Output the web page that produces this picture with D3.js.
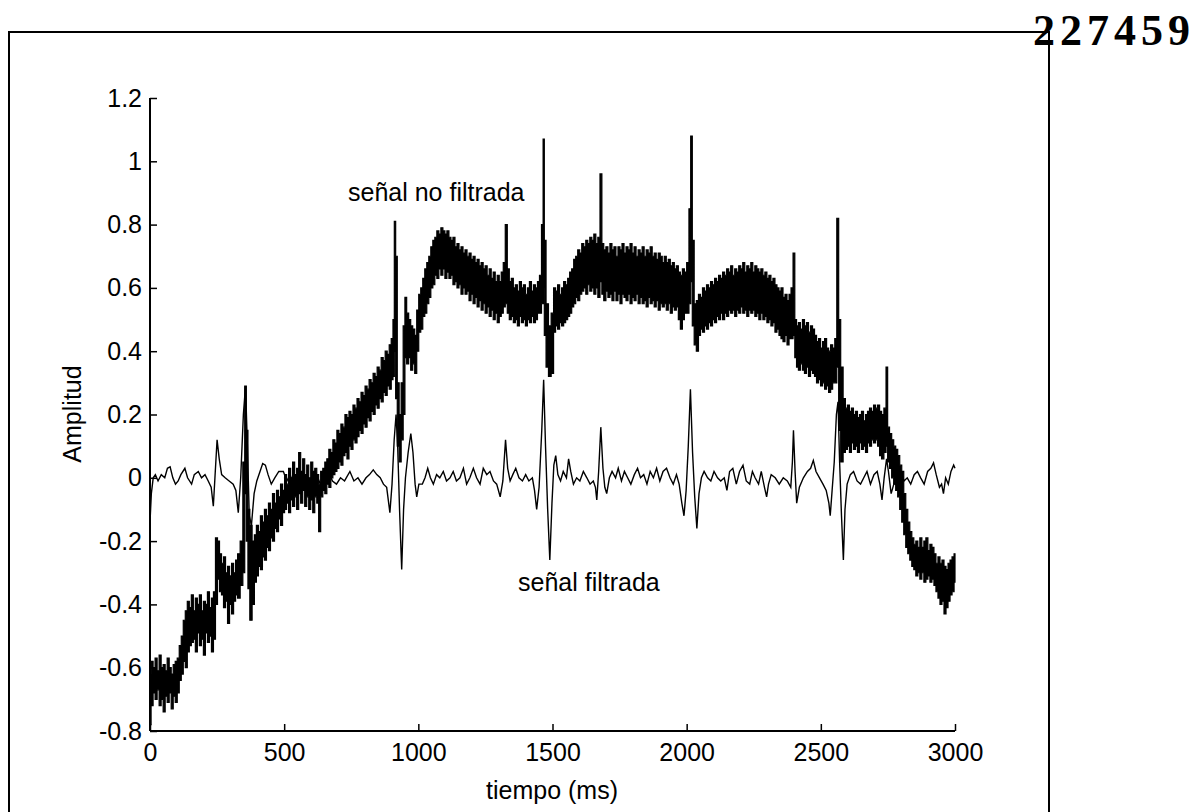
<!DOCTYPE html>
<html>
<head>
<meta charset="utf-8">
<script src="https://cdn.jsdelivr.net/npm/d3@7"></script>
<style>
  html, body { margin: 0; padding: 0; background: #fff; }
  svg { display: block; }
  text { font-family: "Liberation Sans", Arial, sans-serif; fill: #000; }
</style>
</head>
<body>
<svg id="chart" width="1198" height="812"></svg>
<script>
// ---------------- DATA ----------------
const xTicks = [0, 500, 1000, 1500, 2000, 2500, 3000];
const yTicks = [-0.8, -0.6, -0.4, -0.2, 0, 0.2, 0.4, 0.6, 0.8, 1, 1.2];
const xLabel = "tiempo (ms)";
const yLabel = "Amplitud";
const rawLabel = "señal no filtrada";
const filtLabel = "señal filtrada";
const docNumber = "227459";

// unfiltered signal: [time ms, upper edge, lower edge] of the noisy band
const rawEnvelope = [
[0,-0.62,-0.78],[8,-0.58,-0.72],[15,-0.60,-0.68],[23,-0.57,-0.70],[30,-0.61,-0.67],
[38,-0.56,-0.72],[45,-0.60,-0.70],[53,-0.59,-0.74],[60,-0.61,-0.69],[68,-0.57,-0.71],
[75,-0.60,-0.68],[83,-0.62,-0.73],[90,-0.59,-0.69],[98,-0.58,-0.71],[105,-0.57,-0.68],
[113,-0.53,-0.64],[120,-0.50,-0.62],[128,-0.45,-0.58],[135,-0.42,-0.60],[143,-0.39,-0.55],
[150,-0.41,-0.53],[158,-0.37,-0.52],[165,-0.42,-0.51],[173,-0.38,-0.55],[180,-0.40,-0.49],
[188,-0.37,-0.53],[195,-0.42,-0.51],[203,-0.39,-0.56],[210,-0.40,-0.49],[218,-0.36,-0.52],
[225,-0.41,-0.50],[233,-0.38,-0.55],[240,-0.36,-0.51],[248,-0.19,-0.40],[255,-0.20,-0.32],
[263,-0.24,-0.36],[270,-0.27,-0.37],[278,-0.25,-0.41],[285,-0.30,-0.39],[293,-0.28,-0.46],
[300,-0.31,-0.40],[308,-0.27,-0.43],[315,-0.30,-0.39],[323,-0.26,-0.37],[330,-0.24,-0.38],
[342,-0.20,-0.34],[350,0.05,-0.30],[356,0.29,-0.05],[362,0.15,-0.20],[368,-0.10,-0.35],
[376,-0.15,-0.45],[385,-0.20,-0.40],[393,-0.18,-0.33],[400,-0.15,-0.31],[408,-0.17,-0.28],
[415,-0.12,-0.29],[423,-0.14,-0.25],[430,-0.10,-0.26],[438,-0.12,-0.22],[445,-0.08,-0.23],
[453,-0.10,-0.19],[460,-0.05,-0.20],[468,-0.08,-0.16],[475,-0.04,-0.17],[483,-0.06,-0.13],
[490,-0.02,-0.15],[498,-0.04,-0.11],[505,0.01,-0.10],[513,-0.02,-0.08],[520,0.03,-0.11],
[528,0.00,-0.07],[535,0.05,-0.09],[543,0.01,-0.06],[550,0.03,-0.10],[558,0.08,-0.05],
[565,0.02,-0.08],[573,0.06,-0.04],[580,0.01,-0.09],[588,0.04,-0.06],[595,0.00,-0.10],
[603,0.05,-0.07],[610,0.02,-0.11],[618,0.03,-0.06],[625,0.01,-0.08],[632,-0.02,-0.17],
[640,0.02,-0.06],[648,0.03,-0.04],[655,0.05,-0.05],[663,0.06,-0.02],[670,0.09,-0.03],
[678,0.08,0.00],[685,0.12,0.01],[693,0.11,0.02],[700,0.15,0.03],[708,0.14,0.05],
[715,0.17,0.04],[723,0.16,0.07],[730,0.20,0.08],[738,0.19,0.06],[745,0.21,0.10],
[753,0.20,0.09],[760,0.23,0.12],[768,0.22,0.11],[775,0.25,0.13],[783,0.24,0.15],
[790,0.27,0.14],[798,0.26,0.17],[805,0.29,0.16],[813,0.28,0.19],[820,0.31,0.18],
[828,0.30,0.21],[835,0.33,0.20],[843,0.32,0.23],[850,0.35,0.22],[858,0.34,0.25],
[865,0.38,0.24],[873,0.37,0.27],[880,0.40,0.26],[888,0.39,0.29],[895,0.42,0.28],
[903,0.44,0.31],[908,0.50,0.32],[913,0.81,0.40],[918,0.70,0.25],[925,0.30,0.10],
[932,0.20,0.05],[940,0.30,0.12],[947,0.48,0.20],[953,0.57,0.38],[960,0.52,0.36],
[968,0.50,0.38],[975,0.48,0.34],[983,0.47,0.36],[990,0.45,0.33],[998,0.53,0.40],
[1005,0.58,0.46],[1013,0.60,0.47],[1020,0.63,0.51],[1028,0.66,0.52],[1035,0.68,0.55],
[1043,0.70,0.57],[1050,0.73,0.60],[1058,0.75,0.61],[1065,0.76,0.64],[1073,0.78,0.63],
[1080,0.77,0.66],[1088,0.79,0.64],[1095,0.78,0.66],[1103,0.77,0.63],[1110,0.78,0.65],
[1118,0.76,0.63],[1125,0.75,0.64],[1133,0.76,0.61],[1140,0.73,0.62],[1148,0.74,0.60],
[1155,0.72,0.61],[1163,0.73,0.58],[1170,0.71,0.60],[1178,0.72,0.58],[1185,0.70,0.59],
[1193,0.71,0.56],[1200,0.69,0.58],[1208,0.70,0.55],[1215,0.68,0.57],[1223,0.69,0.54],
[1230,0.67,0.56],[1238,0.68,0.53],[1245,0.66,0.55],[1253,0.67,0.52],[1260,0.64,0.54],
[1268,0.66,0.51],[1275,0.63,0.53],[1283,0.65,0.50],[1290,0.62,0.52],[1298,0.64,0.49],
[1305,0.62,0.51],[1313,0.65,0.52],[1320,0.68,0.54],[1328,0.80,0.55],[1335,0.66,0.52],
[1343,0.62,0.50],[1350,0.63,0.51],[1358,0.60,0.49],[1365,0.61,0.50],[1373,0.59,0.48],
[1380,0.62,0.51],[1388,0.60,0.49],[1395,0.61,0.50],[1403,0.58,0.48],[1410,0.60,0.50],
[1418,0.62,0.49],[1425,0.59,0.51],[1433,0.61,0.49],[1440,0.60,0.50],[1448,0.62,0.52],
[1455,0.64,0.52],[1463,0.80,0.55],[1467,1.07,0.60],[1472,0.75,0.45],[1480,0.55,0.35],
[1490,0.48,0.32],[1500,0.52,0.33],[1508,0.60,0.46],[1515,0.59,0.48],[1523,0.61,0.47],
[1530,0.58,0.49],[1538,0.60,0.48],[1545,0.62,0.49],[1553,0.61,0.50],[1560,0.63,0.51],
[1568,0.65,0.52],[1575,0.66,0.54],[1583,0.69,0.55],[1590,0.70,0.57],[1598,0.72,0.56],
[1605,0.71,0.58],[1613,0.74,0.59],[1620,0.73,0.60],[1628,0.75,0.58],[1635,0.74,0.61],
[1643,0.76,0.59],[1650,0.75,0.60],[1658,0.77,0.58],[1665,0.74,0.60],[1673,0.76,0.57],
[1681,0.96,0.62],[1687,0.74,0.58],[1695,0.72,0.56],[1703,0.73,0.59],[1710,0.71,0.57],
[1718,0.74,0.58],[1725,0.72,0.56],[1733,0.73,0.59],[1740,0.70,0.56],[1748,0.73,0.58],
[1755,0.72,0.55],[1763,0.74,0.58],[1770,0.71,0.57],[1778,0.73,0.56],[1785,0.72,0.58],
[1793,0.74,0.55],[1800,0.71,0.57],[1808,0.73,0.56],[1815,0.70,0.58],[1823,0.72,0.55],
[1830,0.71,0.57],[1838,0.73,0.55],[1845,0.70,0.56],[1853,0.72,0.54],[1860,0.71,0.57],
[1868,0.73,0.55],[1875,0.70,0.56],[1883,0.71,0.54],[1890,0.69,0.56],[1898,0.71,0.53],
[1905,0.70,0.55],[1913,0.68,0.54],[1920,0.70,0.55],[1928,0.68,0.53],[1935,0.69,0.55],
[1943,0.67,0.52],[1950,0.68,0.54],[1958,0.66,0.53],[1965,0.67,0.54],[1973,0.65,0.50],
[1980,0.64,0.47],[1988,0.66,0.50],[1995,0.65,0.52],[2005,0.68,0.52],[2012,0.85,0.55],
[2018,1.08,0.62],[2024,0.75,0.48],[2032,0.55,0.42],[2040,0.56,0.40],[2048,0.58,0.45],
[2055,0.57,0.47],[2063,0.60,0.46],[2070,0.59,0.48],[2078,0.61,0.47],[2085,0.60,0.49],
[2093,0.62,0.48],[2100,0.61,0.50],[2108,0.63,0.49],[2115,0.62,0.51],[2123,0.64,0.50],
[2130,0.63,0.52],[2138,0.65,0.50],[2145,0.64,0.52],[2153,0.66,0.51],[2160,0.65,0.53],
[2168,0.67,0.52],[2175,0.64,0.53],[2183,0.66,0.51],[2190,0.65,0.53],[2198,0.67,0.52],
[2205,0.66,0.54],[2213,0.68,0.52],[2220,0.65,0.53],[2228,0.67,0.51],[2235,0.66,0.53],
[2243,0.68,0.52],[2250,0.65,0.53],[2258,0.67,0.51],[2265,0.66,0.52],[2273,0.65,0.50],
[2280,0.66,0.52],[2288,0.64,0.50],[2295,0.65,0.51],[2303,0.63,0.49],[2310,0.64,0.50],
[2318,0.62,0.48],[2325,0.63,0.49],[2333,0.61,0.46],[2340,0.60,0.47],[2348,0.59,0.45],
[2355,0.60,0.44],[2363,0.57,0.43],[2370,0.58,0.45],[2378,0.56,0.42],[2385,0.58,0.44],
[2393,0.60,0.44],[2400,0.71,0.45],[2406,0.50,0.38],[2413,0.48,0.35],[2420,0.49,0.34],
[2428,0.47,0.36],[2435,0.50,0.34],[2443,0.48,0.33],[2450,0.49,0.35],[2458,0.46,0.32],
[2465,0.48,0.34],[2473,0.47,0.33],[2480,0.45,0.32],[2488,0.43,0.30],[2495,0.44,0.31],
[2503,0.41,0.29],[2510,0.43,0.30],[2518,0.44,0.28],[2525,0.41,0.29],[2533,0.40,0.27],
[2540,0.42,0.28],[2548,0.41,0.30],[2556,0.44,0.30],[2563,0.82,0.35],[2570,0.50,0.15],
[2578,0.35,0.05],[2588,0.25,0.08],[2595,0.22,0.09],[2603,0.23,0.10],[2610,0.21,0.08],
[2618,0.22,0.11],[2625,0.20,0.09],[2633,0.21,0.10],[2640,0.19,0.08],[2648,0.20,0.11],
[2655,0.21,0.09],[2663,0.18,0.10],[2670,0.20,0.08],[2678,0.21,0.11],[2685,0.22,0.10],
[2693,0.21,0.12],[2700,0.23,0.11],[2708,0.22,0.12],[2715,0.23,0.10],[2723,0.21,0.07],
[2730,0.20,0.06],[2740,0.22,0.08],[2746,0.35,0.10],[2752,0.16,0.05],[2760,0.14,0.03],
[2768,0.12,0.00],[2775,0.10,-0.02],[2783,0.09,-0.04],[2790,0.07,-0.06],[2798,0.04,-0.10],
[2805,0.02,-0.14],[2813,-0.05,-0.18],[2820,-0.10,-0.22],[2828,-0.14,-0.24],[2835,-0.17,-0.26],
[2843,-0.19,-0.28],[2850,-0.21,-0.29],[2858,-0.20,-0.31],[2865,-0.22,-0.30],[2873,-0.19,-0.32],
[2880,-0.22,-0.30],[2888,-0.20,-0.33],[2895,-0.19,-0.32],[2903,-0.23,-0.31],[2910,-0.21,-0.33],
[2918,-0.22,-0.32],[2925,-0.24,-0.34],[2933,-0.27,-0.36],[2940,-0.25,-0.38],[2948,-0.27,-0.40],
[2955,-0.26,-0.39],[2963,-0.28,-0.43],[2970,-0.29,-0.41],[2978,-0.27,-0.39],[2985,-0.26,-0.37],
[2993,-0.25,-0.36],[3000,-0.24,-0.33]
];

// filtered signal: [time ms, amplitude]
const filtered = [
[0,-0.14],[5,-0.05],[12,0.00],[20,0.01],[30,-0.01],[42,0.01],[55,0.00],[65,0.03],[75,0.035],[85,0.00],
[95,-0.02],[105,-0.01],[115,0.01],[130,0.03],[140,0.00],[155,-0.02],[165,0.01],[180,0.02],[192,0.00],[205,0.01],
[217,-0.01],[228,-0.03],[236,-0.09],[242,0.00],[250,0.12],[258,0.06],[267,0.01],[280,0.00],[295,-0.01],[310,-0.02],
[320,-0.04],[329,-0.11],[338,0.00],[348,0.20],[356,0.29],[363,0.10],[370,-0.12],[378,-0.15],[388,-0.05],[398,-0.01],
[410,0.02],[420,0.045],[430,0.04],[440,0.01],[452,-0.02],[465,0.00],[480,0.02],[497,0.02],[510,-0.01],[522,0.01],
[534,-0.02],[548,0.00],[560,0.01],[575,-0.01],[590,0.00],[605,-0.03],[620,0.01],[635,-0.02],[650,0.00],[665,0.02],
[680,-0.01],[695,-0.02],[710,0.00],[725,-0.01],[745,0.02],[760,-0.01],[775,0.00],[790,-0.02],[805,0.00],[818,0.01],
[832,0.025],[845,0.01],[858,0.00],[870,-0.02],[882,-0.03],[894,-0.11],[902,-0.02],[910,0.12],[917,0.20],[923,0.10],
[930,-0.10],[938,-0.29],[945,-0.10],[952,0.00],[962,0.08],[972,0.14],[980,0.08],[988,-0.02],[994,-0.06],[1002,-0.02],
[1015,-0.02],[1025,0.00],[1035,0.03],[1045,0.00],[1056,-0.02],[1068,0.01],[1080,0.00],[1093,0.02],[1105,-0.01],[1118,0.00],
[1130,0.02],[1142,-0.01],[1155,0.00],[1168,0.03],[1180,-0.02],[1192,0.00],[1205,0.03],[1217,0.00],[1230,-0.02],[1242,0.03],
[1255,0.01],[1267,0.02],[1280,-0.01],[1292,-0.02],[1305,-0.06],[1315,-0.01],[1325,0.12],[1333,0.03],[1342,-0.01],[1352,0.01],
[1363,0.03],[1375,0.00],[1388,-0.01],[1400,0.01],[1412,-0.01],[1425,0.00],[1433,-0.04],[1441,-0.10],[1450,-0.03],[1460,0.15],
[1467,0.31],[1474,0.10],[1482,-0.10],[1490,-0.26],[1498,-0.08],[1505,0.04],[1512,0.07],[1520,0.01],[1530,-0.01],[1540,0.02],
[1552,0.00],[1560,0.06],[1568,0.02],[1578,-0.02],[1590,0.00],[1602,-0.01],[1615,0.02],[1628,0.00],[1640,-0.02],[1652,-0.01],
[1660,-0.03],[1665,-0.07],[1672,0.02],[1680,0.16],[1688,0.03],[1695,-0.03],[1702,-0.05],[1712,0.00],[1722,0.02],[1735,0.00],
[1745,0.03],[1757,-0.01],[1768,0.02],[1780,0.00],[1792,-0.02],[1805,0.01],[1817,0.03],[1828,0.00],[1840,0.01],[1852,-0.02],
[1864,0.02],[1876,0.00],[1888,0.03],[1900,-0.01],[1912,0.02],[1925,0.03],[1938,0.00],[1950,-0.02],[1962,0.01],[1972,-0.02],
[1982,-0.08],[1990,-0.12],[1998,-0.04],[2006,0.10],[2014,0.28],[2022,0.08],[2030,-0.06],[2038,-0.16],[2046,-0.05],[2055,0.00],
[2065,0.02],[2078,0.00],[2090,-0.01],[2102,0.02],[2115,0.00],[2127,-0.01],[2140,0.00],[2150,-0.04],[2160,0.02],[2172,0.03],
[2185,-0.02],[2197,0.02],[2210,0.04],[2222,-0.01],[2235,-0.02],[2245,0.02],[2255,0.00],[2268,-0.02],[2278,0.02],[2290,-0.03],
[2298,-0.06],[2305,-0.02],[2315,0.01],[2330,0.00],[2345,-0.02],[2360,0.00],[2375,-0.01],[2388,-0.03],[2394,0.05],[2398,0.15],
[2404,0.02],[2410,-0.08],[2420,-0.03],[2435,0.00],[2450,0.02],[2462,0.03],[2472,0.055],[2482,0.02],[2495,0.00],[2508,-0.02],
[2520,-0.04],[2530,-0.08],[2535,-0.12],[2542,-0.04],[2550,0.05],[2558,0.20],[2564,0.24],[2570,0.05],[2577,-0.12],[2584,-0.26],
[2590,-0.10],[2598,-0.02],[2610,0.01],[2622,0.02],[2635,-0.01],[2648,-0.02],[2660,0.00],[2672,0.02],[2685,-0.02],[2698,0.01],
[2710,0.02],[2720,-0.02],[2728,-0.07],[2736,0.00],[2745,0.06],[2752,0.02],[2762,-0.05],[2772,-0.02],[2785,0.01],[2798,0.02],
[2810,-0.01],[2822,0.00],[2835,-0.02],[2848,0.01],[2860,0.02],[2872,0.00],[2885,-0.02],[2898,0.02],[2910,0.03],[2920,0.047],
[2930,0.01],[2942,-0.03],[2950,-0.02],[2957,-0.05],[2965,0.00],[2975,-0.02],[2985,0.02],[2995,0.04],[3000,0.03]
];

// ---------------- DRAWING ----------------
const svg = d3.select("#chart");
const x = d3.scaleLinear().domain([0, 3000]).range([150, 955]);
const y = d3.scaleLinear().domain([-0.8, 1.2]).range([731, 98]);

// outer page frame
svg.append("path")
  .attr("d", "M9,812 V32 H1049 V812")
  .attr("fill", "none").attr("stroke", "#000").attr("stroke-width", 2);

svg.append("text")
  .attr("x", 1033).attr("y", 45)
  .style("font-family", "'Liberation Serif', 'DejaVu Serif', serif")
  .style("font-weight", "bold")
  .style("font-size", "44px")
  .style("letter-spacing", "5px")
  .text(docNumber);

// unfiltered band (noisy, drawn as its upper/lower envelope)
const area = d3.area()
  .x(d => x(d[0]))
  .y0(d => y(d[2]))
  .y1(d => y(d[1]))
  .curve(d3.curveStep);
svg.append("path")
  .datum(rawEnvelope)
  .attr("d", area)
  .attr("fill", "#000")
  .attr("stroke", "#000")
  .attr("stroke-width", 1.2);

// filtered line
const line = d3.line().x(d => x(d[0])).y(d => y(d[1]));
svg.append("path")
  .datum(filtered)
  .attr("d", line)
  .attr("fill", "none")
  .attr("stroke", "#000")
  .attr("stroke-width", 1.4);

// axes
const fmt = v => (Math.abs(v) < 1e-9 ? "0" : String(+v.toFixed(1)));
const yAxis = d3.axisLeft(y).tickValues(yTicks).tickSize(-7).tickPadding(8).tickFormat(fmt);
const xAxis = d3.axisBottom(x).tickValues(xTicks).tickSize(-7).tickPadding(12).tickFormat(d3.format("d"));

const gy = svg.append("g").attr("transform", "translate(150,0)").call(yAxis);
const gx = svg.append("g").attr("transform", "translate(0,731)").call(xAxis);
[gx, gy].forEach(g => {
  g.select(".domain").attr("stroke", "#000").attr("stroke-width", 2);
  g.selectAll(".tick line").attr("stroke", "#000").attr("stroke-width", 1.5);
  g.selectAll(".tick text")
    .style("font-family", "'Liberation Sans', Arial, sans-serif")
    .style("font-size", "25px")
    .attr("fill", "#000");
});
gy.select(".domain").attr("d", "M0,731V98");
gx.select(".domain").attr("d", "M150,0H955");
gx.selectAll(".tick text").attr("dy", "0.71em");

// axis titles
svg.append("text")
  .attr("transform", "translate(72,414) rotate(-90)")
  .attr("text-anchor", "middle")
  .attr("dominant-baseline", "central")
  .style("font-size", "25px")
  .text(yLabel);
svg.append("text")
  .attr("x", 552).attr("y", 790)
  .attr("text-anchor", "middle")
  .attr("dominant-baseline", "central")
  .style("font-size", "25px")
  .text(xLabel);

// annotations
svg.append("text").attr("x", 348).attr("y", 201).style("font-size", "25px").text(rawLabel);
svg.append("text").attr("x", 518).attr("y", 591).style("font-size", "25px").text(filtLabel);
</script>
</body>
</html>
